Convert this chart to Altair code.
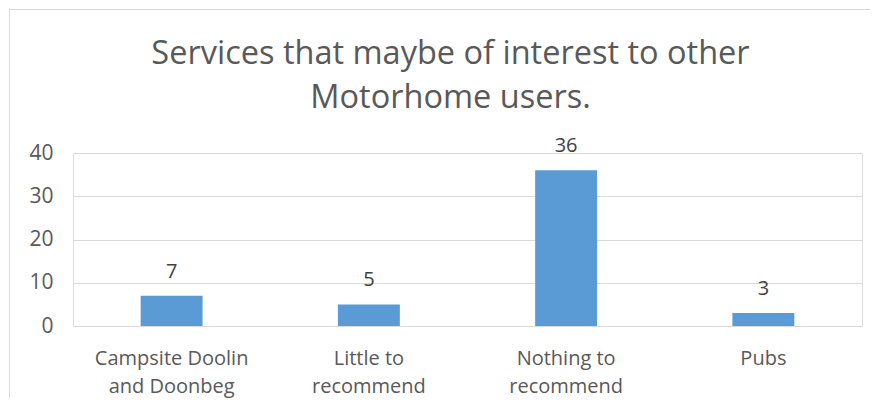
import altair as alt
import pandas as pd

categories = ["Campsite Doolin and Doonbeg", "Little to recommend", "Nothing to recommend", "Pubs"]
label_lines = [["Campsite Doolin", "and Doonbeg"], ["Little to", "recommend"], ["Nothing to", "recommend"], ["Pubs"]]
values = [7, 5, 36, 3]
y_ticks = [0, 10, 20, 30, 40]
title_lines = ["Services that maybe of interest to other", "Motorhome users."]

df = pd.DataFrame({"category": categories, "value": values})

# label expression mapping each category to its wrapped lines
mapping = "{" + ", ".join(
    "'" + c + "': [" + ", ".join("'" + l + "'" for l in ls) + "]" for c, ls in zip(categories, label_lines)
) + "}"
label_expr = mapping + "[datum.label]"

FONT = "Open Sans"
GREY = "#595959"
GRID = "#d9d9d9"

x = alt.X(
    "category:N",
    sort=categories,
    scale=alt.Scale(paddingInner=0.686, paddingOuter=0.343),
    axis=alt.Axis(
        title=None, labelAngle=0, labelExpr=label_expr, ticks=False,
        domainColor=GRID, domainWidth=1, labelFont=FONT, labelFontSize=20,
        labelColor=GREY, labelLineHeight=28, labelPadding=22, labelBaseline="top",
    ),
)
y = alt.Y(
    "value:Q",
    scale=alt.Scale(domain=[0, 40], nice=False),
    axis=alt.Axis(
        title=None, values=y_ticks, ticks=False, domain=False, gridColor=GRID,
        gridWidth=1, labelFont=FONT, labelFontSize=21, labelColor=GREY, labelPadding=20,
    ),
)

base = alt.Chart(df)
bars = base.mark_bar(color="#5b9bd5").encode(x=x, y=y)
text = base.mark_text(dy=-18, baseline="alphabetic", font=FONT, fontSize=20, color="#404040").encode(
    x=alt.X("category:N", sort=categories), y="value:Q", text="value:Q"
)

one = pd.DataFrame({"a": [0]})
border_v = alt.Chart(one).mark_rule(color=GRID, strokeWidth=1).encode(
    x=alt.value(-63.5), y=alt.value(-144.5), y2=alt.value(245)
)
border_h = alt.Chart(one).mark_rule(color=GRID, strokeWidth=1).encode(
    x=alt.value(-64), x2=alt.value(800), y=alt.value(-143.5)
)

chart = alt.layer(border_v, border_h, bars, text).properties(
    width=789,
    height=173,
    padding={"left": 65, "top": 145, "right": 8, "bottom": 78},
    autosize=alt.AutoSizeParams(type="none"),
    title=alt.TitleParams(
        text=title_lines, font=FONT, fontSize=32.5, fontWeight="normal", color=GREY,
        lineHeight=44, anchor="middle", dx=-17, offset=-106, frame="group",
    ),
).configure_view(strokeWidth=0).configure(background="white")

chart.save("out.html", embed_options={"renderer": "svg", "actions": False})
